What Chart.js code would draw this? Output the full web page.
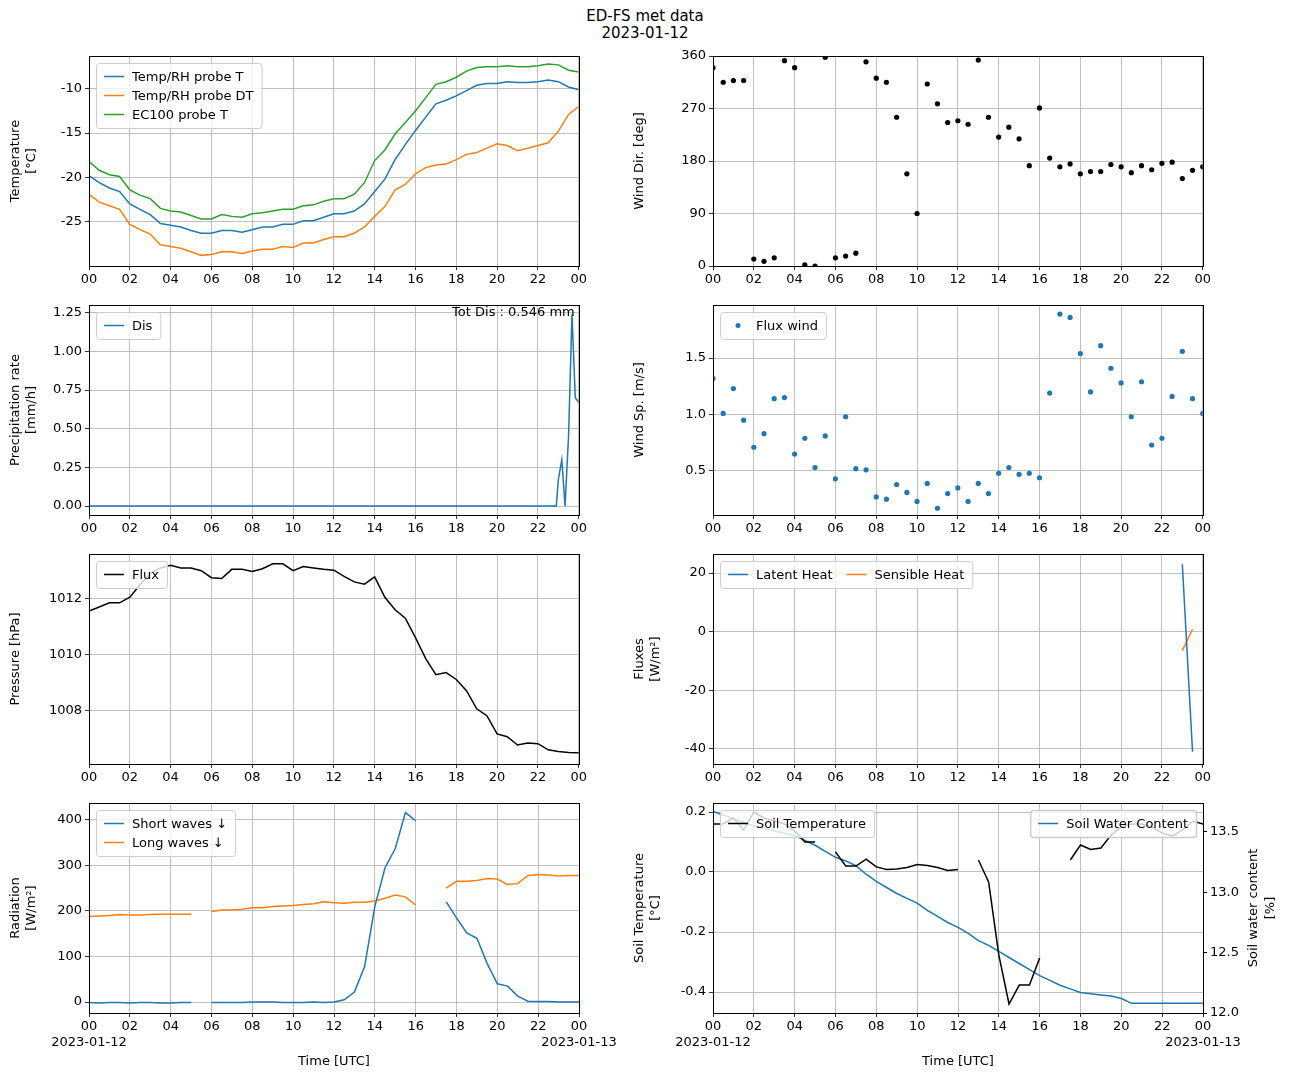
<!DOCTYPE html>
<html>
<head>
<meta charset="utf-8">
<script src="https://cdn.jsdelivr.net/npm/chart.js@4"></script>
<style>
body { margin:0; background:#fff; width:1290px; height:1083px; position:relative; overflow:hidden; font-family:"DejaVu Sans"; }
canvas { position:absolute; }
#title { position:absolute; left:0; width:1290px; top:8px; text-align:center; font-size:15px; line-height:17px; }
</style>
</head>
<body>
<div id="title">ED-FS met data<br>2023-01-12</div>
<canvas id="c1"></canvas><canvas id="c2"></canvas><canvas id="c3"></canvas><canvas id="c4"></canvas>
<canvas id="c5"></canvas><canvas id="c6"></canvas><canvas id="c7"></canvas><canvas id="c8"></canvas>
<script>
// half-hourly time axis [h]
var hours = [0,0.5,1,1.5,2,2.5,3,3.5,4,4.5,5,5.5,6,6.5,7,7.5,8,8.5,9,9.5,10,10.5,11,11.5,12,12.5,13,13.5,14,14.5,15,15.5,16,16.5,17,17.5,18,18.5,19,19.5,20,20.5,21,21.5,22,22.5,23,23.5,24];
var xTicks = [0,2,4,6,8,10,12,14,16,18,20,22,24];

var tempT  = [-19.8,-20.6,-21.2,-21.6,-23.0,-23.6,-24.2,-25.2,-25.4,-25.6,-26.0,-26.3,-26.3,-26.0,-26.0,-26.2,-25.9,-25.6,-25.6,-25.3,-25.3,-24.9,-24.9,-24.5,-24.1,-24.1,-23.8,-23.0,-21.6,-20.2,-18.0,-16.3,-14.7,-13.2,-11.7,-11.3,-10.8,-10.2,-9.6,-9.4,-9.4,-9.2,-9.3,-9.3,-9.2,-9.0,-9.2,-9.8,-10.1];
var tempDT = [-21.9,-22.8,-23.2,-23.6,-25.3,-25.9,-26.4,-27.6,-27.8,-28.0,-28.4,-28.8,-28.7,-28.4,-28.4,-28.6,-28.3,-28.1,-28.1,-27.8,-27.9,-27.4,-27.4,-27.0,-26.7,-26.7,-26.3,-25.6,-24.4,-23.3,-21.4,-20.8,-19.6,-18.9,-18.6,-18.5,-18.0,-17.4,-17.2,-16.7,-16.2,-16.4,-17.0,-16.7,-16.4,-16.1,-14.8,-12.9,-12.0];
var tempEC = [-18.2,-19.2,-19.7,-19.9,-21.4,-22.0,-22.4,-23.5,-23.8,-23.9,-24.3,-24.7,-24.7,-24.2,-24.4,-24.5,-24.1,-24.0,-23.8,-23.6,-23.6,-23.2,-23.1,-22.7,-22.4,-22.4,-21.9,-20.6,-18.1,-16.9,-15.1,-13.8,-12.5,-11.0,-9.5,-9.2,-8.7,-8.0,-7.6,-7.5,-7.5,-7.4,-7.5,-7.5,-7.4,-7.2,-7.3,-7.9,-8.1];
var tempTicks = [-25,-20,-15,-10];

var windDir = [340,315,318,318,12,8,14,352,340,2,0,358,14,17,22,350,322,315,255,158,90,312,278,246,249,243,353,255,221,238,218,172,271,185,170,175,158,162,162,174,170,160,172,165,176,178,150,164,170];
var windDirTicks = [0,90,180,270,360];

var precipX = [0,22.9,23.0,23.17,23.33,23.5,23.67,23.83,24];
var precipY = [0,0,0.17,0.30,0,0.45,1.24,0.70,0.67];
var precipTicks = [0,0.25,0.5,0.75,1.0,1.25];
var totDis = 'Tot Dis : 0.546 mm';

var windSp = [1.32,1.01,1.23,0.95,0.71,0.83,1.14,1.15,0.65,0.79,0.53,0.81,0.43,0.98,0.52,0.51,0.27,0.25,0.38,0.31,0.23,0.39,0.17,0.30,0.35,0.23,0.39,0.30,0.48,0.53,0.47,0.48,0.44,1.19,1.89,1.86,1.54,1.20,1.61,1.41,1.28,0.98,1.29,0.73,0.79,1.16,1.56,1.14,1.01];
var windSpTicks = [0.5,1.0,1.5];

var pressure = [1011.55,1011.7,1011.85,1011.85,1012.05,1012.5,1012.9,1013.1,1013.2,1013.1,1013.1,1013.0,1012.75,1012.72,1013.05,1013.05,1012.97,1013.07,1013.25,1013.25,1013.0,1013.15,1013.1,1013.05,1013.02,1012.8,1012.6,1012.52,1012.78,1012.05,1011.6,1011.3,1010.6,1009.85,1009.27,1009.35,1009.1,1008.7,1008.05,1007.8,1007.15,1007.05,1006.75,1006.82,1006.8,1006.58,1006.52,1006.48,1006.47];
var pressTicks = [1008,1010,1012];

var fluxX = [23,23.5];
var latentHeat = [23,-41];
var sensibleHeat = [-6.5,0.8];
var fluxTicks = [-40,-20,0,20];

var shortWave = [-1,-2,-1,-1,-2,-1,-1,-2,-2,-1,-1,null,-1,-1,-1,-1,0,0,0,-1,-1,-1,0,-1,0,5,22,78,210,295,337,416,398,null,null,220,185,152,140,85,40,35,13,2,1,1,0,0,0];
var longWave  = [188,189,190,192,191,191,192,193,193,193,193,null,199,202,202,204,207,207,210,211,212,214,216,220,218,217,219,219,222,228,235,231,213,null,null,250,265,265,267,271,270,258,260,278,280,279,277,278,278];
var radTicks = [0,100,200,300,400];

var soilTemp = [0.16,0.16,0.18,0.14,0.20,0.18,0.17,0.16,0.137,0.10,0.10,null,0.067,0.02,0.02,0.043,0.017,0.008,0.01,0.015,0.025,0.022,0.015,0.005,0.008,null,0.04,-0.033,-0.277,-0.44,-0.377,-0.377,-0.287,null,null,0.04,0.09,0.075,0.08,0.123,0.15,0.16,0.16,0.15,0.13,0.12,0.14,0.17,0.16];
var soilWater = [13.67,13.64,13.61,13.58,13.55,13.53,13.51,13.49,13.47,13.43,13.39,13.34,13.29,13.26,13.22,13.15,13.09,13.04,12.99,12.95,12.91,12.85,12.80,12.75,12.71,12.66,12.60,12.56,12.51,12.46,12.41,12.36,12.31,12.27,12.23,12.20,12.17,12.16,12.15,12.14,12.12,12.08,12.08,12.08,12.08,12.08,12.08,12.08,12.08];
var soilTempTicks = [-0.4,-0.2,0.0,0.2];
var soilWaterTicks = [12.0,12.5,13.0,13.5];

var FONT = 'DejaVu Sans';
Chart.defaults.font.family = FONT;
Chart.defaults.font.size = 13;
Chart.defaults.color = '#000';
Chart.defaults.animation = false;

var BLUE = '#1f77b4', ORANGE = '#ff7f0e', GREEN = '#2ca02c';

var mplPlugin = {
  id: 'mpl',
  afterDraw: function(chart) {
    var o = chart.options.plugins.mpl || {};
    var ctx = chart.ctx, ca = chart.chartArea;
    ctx.save();
    ctx.strokeStyle = '#000'; ctx.lineWidth = 1;
    ctx.strokeRect(Math.round(ca.left) + 0.5, Math.round(ca.top) + 0.5, Math.round(ca.right - ca.left), Math.round(ca.bottom - ca.top));
    ctx.font = '13px ' + FONT;
    (o.legends || []).forEach(function(lg) {
      var rowH = 19, w, h;
      var tw = lg.items.map(function(it) { return ctx.measureText(it.label).width; });
      if (lg.horizontal) {
        w = 8; tw.forEach(function(t) { w += 20 + 8 + t + 14; }); w -= 6;
        h = rowH + 8;
      } else {
        w = 8 + 20 + 8 + Math.max.apply(null, tw) + 8;
        h = lg.items.length * rowH + 8;
      }
      var x = lg.corner === 'ur' ? ca.right - 7 - w : ca.left + 7;
      var y = ca.top + 7;
      ctx.fillStyle = 'rgba(255,255,255,0.8)';
      ctx.strokeStyle = '#cccccc';
      ctx.beginPath();
      ctx.roundRect(x + 0.5, y + 0.5, w, h, 3);
      ctx.fill(); ctx.stroke();
      var cx = x + 8, cy = y + 4 + rowH / 2;
      lg.items.forEach(function(it, i) {
        if (it.type === 'dot') {
          ctx.fillStyle = it.color;
          ctx.beginPath(); ctx.arc(cx + 10, cy, 2.5, 0, Math.PI * 2); ctx.fill();
        } else {
          ctx.strokeStyle = it.color; ctx.lineWidth = 1.5;
          ctx.beginPath(); ctx.moveTo(cx, cy); ctx.lineTo(cx + 20, cy); ctx.stroke();
        }
        ctx.fillStyle = '#000'; ctx.textBaseline = 'middle'; ctx.textAlign = 'left';
        ctx.fillText(it.label, cx + 28, cy + 1);
        if (lg.horizontal) cx += 20 + 8 + tw[i] + 14; else cy += rowH;
      });
    });
    if (o.note) {
      ctx.fillStyle = '#000'; ctx.textAlign = 'right'; ctx.textBaseline = 'top';
      ctx.fillText(o.note, ca.right - 4, ca.top + 1);
    }
    if (o.rightTitle) {
      ctx.save();
      ctx.translate(ca.right + 51, (ca.top + ca.bottom) / 2);
      ctx.rotate(-Math.PI / 2);
      ctx.textAlign = 'center'; ctx.textBaseline = 'middle'; ctx.fillStyle = '#000';
      ctx.fillText(o.rightTitle[0], 0, 0);
      ctx.fillText(o.rightTitle[1], 0, 17);
      ctx.restore();
    }
    ctx.restore();
  }
};

function pts(xs, ys) {
  return xs.map(function(x, i) { return { x: x, y: ys[i] }; });
}
function lineDs(xs, ys, color) {
  return { type: 'line', data: pts(xs, ys), borderColor: color, backgroundColor: color, borderWidth: 1.5, pointRadius: 0, spanGaps: false, yAxisID: 'y' };
}
function dotDs(xs, ys, color) {
  return { type: 'scatter', data: pts(xs, ys), borderColor: color, backgroundColor: color, pointRadius: 2.6, pointBorderWidth: 0, showLine: false, yAxisID: 'y' };
}
function fixedTicks(arr) {
  return function(s) { s.ticks = arr.map(function(v) { return { value: v }; }); };
}
var GRID = { color: '#b0b0b0', lineWidth: 0.8, tickColor: '#000', tickLength: 4 };

function makeChart(id, left, top, opts) {
  var bottomRow = !!opts.bottom;
  var xh = bottomRow ? 60 : 24;
  var rightW = opts.rightAxis ? 86 : (bottomRow ? 44 : 10);
  var cv = document.getElementById(id);
  cv.style.left = left + 'px'; cv.style.top = (top - 12) + 'px';
  cv.width = 89 + 490 + rightW; cv.height = 12 + 210 + xh;
  cv.style.width = cv.width + 'px'; cv.style.height = cv.height + 'px';
  var scales = {
    x: {
      type: 'linear', min: 0, max: 24,
      afterBuildTicks: fixedTicks(xTicks),
      afterFit: function(s) { s.height = xh; },
      grid: GRID, border: { color: '#000' },
      ticks: {
        maxRotation: 0, autoSkip: false, padding: 2,
        callback: function(v) {
          var l = v === 24 ? '00' : String(v).padStart(2, '0');
          if (bottomRow && v === 0) return [l, '2023-01-12'];
          if (bottomRow && v === 24) return [l, '2023-01-13'];
          return l;
        }
      },
      title: bottomRow ? { display: true, text: 'Time [UTC]', padding: { top: 2 } } : { display: false }
    },
    y: {
      position: 'left', min: opts.yMin, max: opts.yMax,
      afterBuildTicks: fixedTicks(opts.yTicks),
      afterFit: function(s) { s.width = 89; },
      grid: GRID, border: { color: '#000' },
      ticks: { padding: 3, callback: opts.yFmt || function(v) { return v; } },
      title: { display: true, text: opts.yTitle, padding: { top: 8, bottom: 4 } }
    }
  };
  if (opts.rightAxis) {
    var ra = opts.rightAxis;
    scales.y2 = {
      position: 'right', min: ra.min, max: ra.max,
      afterBuildTicks: fixedTicks(ra.ticks),
      afterFit: function(s) { s.width = rightW; },
      grid: { drawOnChartArea: false, tickColor: '#000', tickLength: 4 }, border: { color: '#000' },
      ticks: { padding: 3, callback: function(v) { return v.toFixed(1); } }
    };
  }
  return new Chart(cv, {
    type: 'line',
    data: { datasets: opts.datasets },
    options: {
      responsive: false, animation: false,
      layout: { padding: { top: 12, right: opts.rightAxis ? 0 : rightW, left: 0, bottom: 0 } },
      scales: scales,
      plugins: {
        legend: { display: false }, tooltip: { enabled: false },
        mpl: { legends: opts.legends, note: opts.note, rightTitle: opts.rightTitle }
      }
    },
    plugins: [mplPlugin]
  });
}

var L = 0, R = 624;
var rows = [56, 305, 554, 803];

makeChart('c1', L, rows[0], {
  yTitle: ['Temperature', '[°C]'], yMin: -30.0, yMax: -6.3, yTicks: tempTicks,
  datasets: [lineDs(hours, tempT, BLUE), lineDs(hours, tempDT, ORANGE), lineDs(hours, tempEC, GREEN)],
  legends: [{ corner: 'ul', items: [
    { label: 'Temp/RH probe T', color: BLUE }, { label: 'Temp/RH probe DT', color: ORANGE }, { label: 'EC100 probe T', color: GREEN }] }]
});
makeChart('c2', R, rows[0], {
  yTitle: 'Wind Dir. [deg]', yMin: 0, yMax: 360, yTicks: windDirTicks,
  datasets: [dotDs(hours, windDir, '#000')], legends: []
});
makeChart('c3', L, rows[1], {
  yTitle: ['Precipitation rate', '[mm/h]'], yMin: -0.058, yMax: 1.30, yTicks: precipTicks,
  yFmt: function(v) { return v.toFixed(2); },
  datasets: [lineDs(precipX, precipY, BLUE)],
  legends: [{ corner: 'ul', items: [{ label: 'Dis', color: BLUE }] }], note: totDis
});
makeChart('c4', R, rows[1], {
  yTitle: 'Wind Sp. [m/s]', yMin: 0.11, yMax: 1.97, yTicks: windSpTicks,
  yFmt: function(v) { return v.toFixed(1); },
  datasets: [dotDs(hours, windSp, BLUE)],
  legends: [{ corner: 'ul', items: [{ label: 'Flux wind', color: BLUE, type: 'dot' }] }]
});
makeChart('c5', L, rows[2], {
  yTitle: 'Pressure [hPa]', yMin: 1006.07, yMax: 1013.6, yTicks: pressTicks,
  datasets: [lineDs(hours, pressure, '#000')],
  legends: [{ corner: 'ul', items: [{ label: 'Flux', color: '#000' }] }]
});
makeChart('c6', R, rows[2], {
  yTitle: ['Fluxes', '[W/m²]'], yMin: -45.2, yMax: 26.5, yTicks: fluxTicks,
  datasets: [lineDs(fluxX, latentHeat, BLUE), lineDs(fluxX, sensibleHeat, ORANGE)],
  legends: [{ corner: 'ul', horizontal: true, items: [{ label: 'Latent Heat', color: BLUE }, { label: 'Sensible Heat', color: ORANGE }] }]
});
makeChart('c7', L, rows[3], {
  bottom: true, yTitle: ['Radiation', '[W/m²]'], yMin: -24, yMax: 437, yTicks: radTicks,
  datasets: [lineDs(hours, shortWave, BLUE), lineDs(hours, longWave, ORANGE)],
  legends: [{ corner: 'ul', items: [{ label: 'Short waves ↓', color: BLUE }, { label: 'Long waves ↓', color: ORANGE }] }]
});
var soilDs = [lineDs(hours, soilTemp, '#000'), lineDs(hours, soilWater, BLUE)];
soilDs[1].yAxisID = 'y2';
makeChart('c8', R, rows[3], {
  bottom: true, yTitle: ['Soil Temperature', '[°C]'], yMin: -0.47, yMax: 0.23, yTicks: soilTempTicks,
  yFmt: function(v) { return v.toFixed(1); },
  rightAxis: { min: 12.0, max: 13.74, ticks: soilWaterTicks }, rightTitle: ['Soil water content', '[%]'],
  datasets: soilDs,
  legends: [{ corner: 'ul', items: [{ label: 'Soil Temperature', color: '#000' }] },
            { corner: 'ur', items: [{ label: 'Soil Water Content', color: BLUE }] }]
});
</script>
</body>
</html>
